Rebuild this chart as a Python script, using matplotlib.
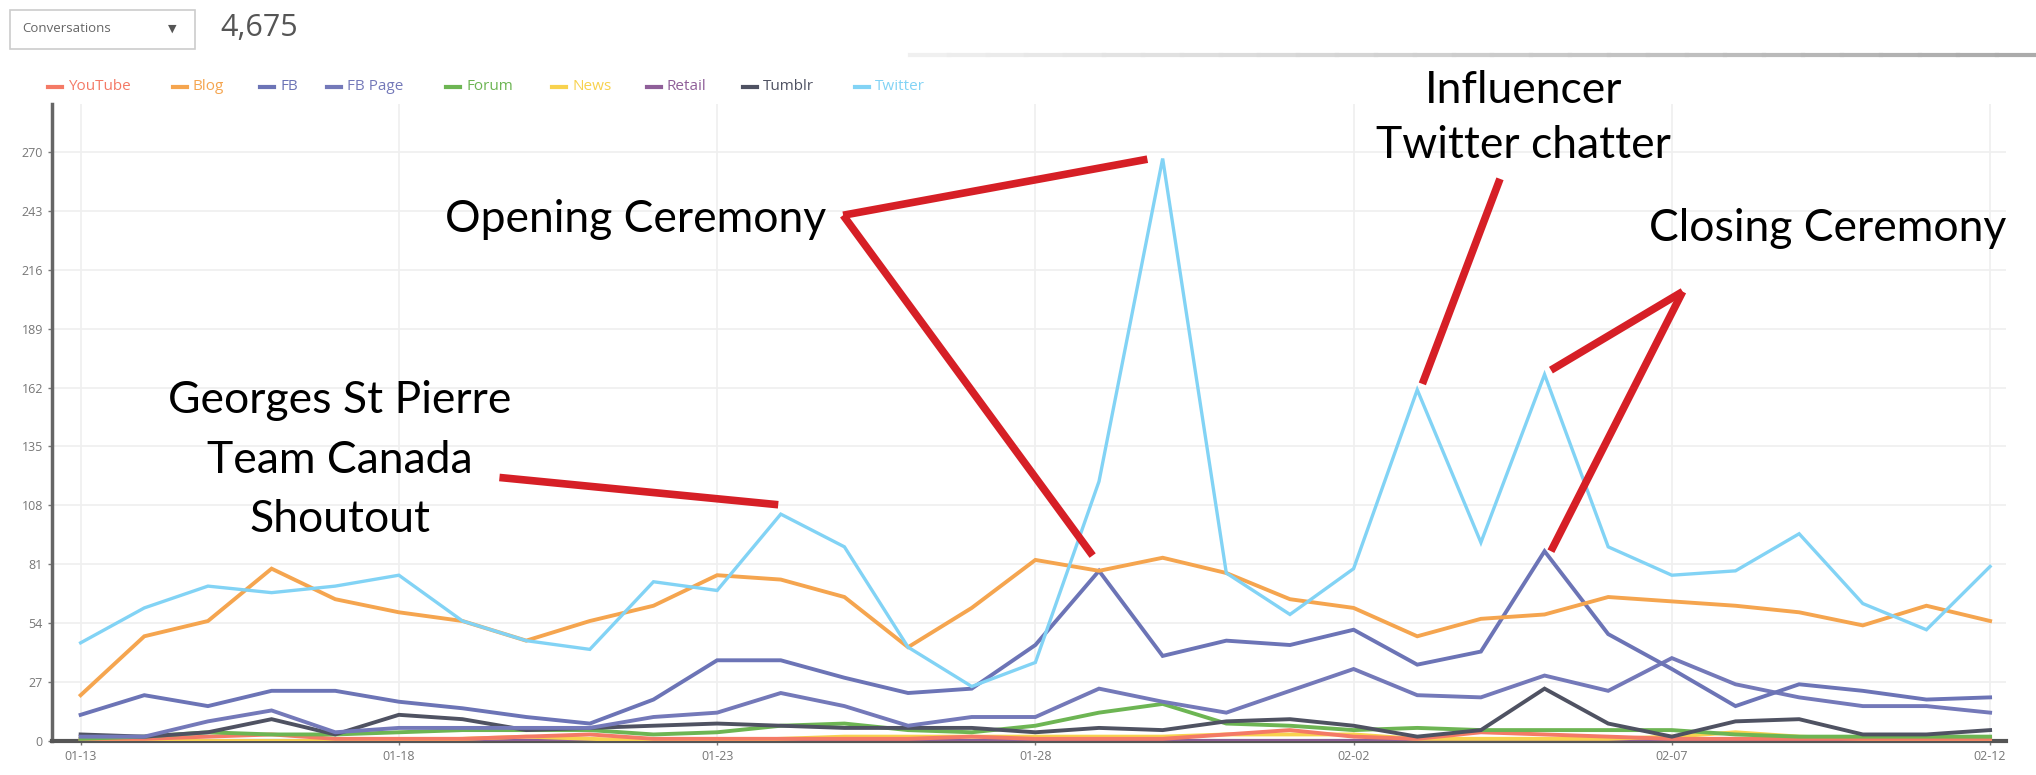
import matplotlib.pyplot as plt
import numpy as np
import pandas as pd
from matplotlib.patches import Rectangle
from matplotlib.lines import Line2D

plt.rcParams['font.family'] = ['Open Sans', 'DejaVu Sans']

# daily conversations per source, 01-13 .. 02-12
days = pd.date_range('2014-01-13', '2014-02-12').strftime('%m-%d').tolist()

youtube = [1, 1, 2, 3, 1, 1, 1, 2, 3, 1, 1, 1, 1, 1, 2, 1, 1, 1, 3, 5, 2, 1, 4, 3, 2, 1, 1, 1, 1, 1, 1]
blog = [21, 48, 55, 79, 65, 59, 55, 46, 55, 62, 76, 74, 66, 43, 61, 83, 78, 84, 77, 65,
        61, 48, 56, 58, 66, 64, 62, 59, 53, 62, 55]
fb = [12, 21, 16, 23, 23, 18, 15, 11, 8, 19, 37, 37, 29, 22, 24, 44, 78, 39, 46, 44,
      51, 35, 41, 87, 49, 33, 16, 26, 23, 19, 20]
fb_page = [2, 2, 9, 14, 4, 6, 6, 6, 6, 11, 13, 22, 16, 7, 11, 11, 24, 18, 13, 23,
           33, 21, 20, 30, 23, 38, 26, 20, 16, 16, 13]
forum = [1, 2, 4, 3, 3, 4, 5, 5, 5, 3, 4, 7, 8, 5, 4, 7, 13, 17, 8, 7, 5, 6, 5, 5, 5, 5, 3, 2, 2, 2, 2]
news = [0, 0, 0, 0, 0, 0, 1, 2, 1, 0, 0, 1, 2, 2, 2, 2, 2, 2, 3, 3, 3, 1, 1, 1, 1, 2, 4, 2, 1, 1, 1]
retail = [0, 0, 0, 0, 0, 0, 0, 0, 0, 0, 0, 0, 0, 0, 0, 0, 0, 0, 0, 0, 0, 0, 0, 0, 0, 0, 0, 0, 0, 0, 0]
tumblr = [3, 2, 4, 10, 3, 12, 10, 5, 6, 7, 8, 7, 6, 6, 6, 4, 6, 5, 9, 10, 7, 2, 5, 24, 8, 2, 9, 10, 3, 3, 5]
twitter = [45, 61, 71, 68, 71, 76, 55, 46, 42, 73, 69, 104, 89, 43, 25, 36, 119, 267, 77, 58,
           79, 161, 91, 168, 89, 76, 78, 95, 63, 51, 80]

names = ['YouTube', 'Blog', 'FB', 'FB Page', 'Forum', 'News', 'Retail', 'Tumblr', 'Twitter']
colors = ['#f47a66', '#f5a54f', '#6c74b6', '#7479b9', '#6db553', '#f8d24e', '#8f5f99', '#4f5262', '#82d3f5']
series = [youtube, blog, fb, fb_page, forum, news, retail, tumblr, twitter]
draw_order = ['Retail', 'News', 'YouTube', 'Forum', 'Tumblr', 'FB Page', 'FB', 'Blog', 'Twitter']

W, H = 2036, 775
fig = plt.figure(figsize=(W / 100, H / 100), dpi=100)
ax = fig.add_axes([52 / W, 1 - 741 / H, (2006 - 52) / W, (741 - 104) / H])

x = np.arange(len(days))
for nm in draw_order:
    i = names.index(nm)
    lw = 2.4 if nm == 'Twitter' else 2.8
    ax.plot(x, series[i], color=colors[i], lw=lw, solid_joinstyle='miter', zorder=3)

ax.set_xlim(-0.45, 30.25)
ax.set_ylim(0, 292)
ax.set_yticks(range(0, 271, 27))
ax.set_xticks(x[::5])
ax.set_xticklabels(days[::5])
ax.tick_params(labelsize=9, colors='#777777', length=3, width=1)
ax.grid(True, color='#efefef', lw=1.2)
ax.set_axisbelow(True)
for s in ['top', 'right']:
    ax.spines[s].set_visible(False)
ax.spines['left'].set_color('#666666')
ax.spines['left'].set_linewidth(2.5)
ax.spines['bottom'].set_color('#555555')
ax.spines['bottom'].set_linewidth(3)

# annotations
red = '#d61f26'
ann = dict(fontsize=32, family=['Lato', 'DejaVu Sans'], color='black', ha='center', va='center', zorder=6)
ax.text(4.07, 156, 'Georges St Pierre', **ann)
ax.text(4.07, 128.5, 'Team Canada', **ann)
ax.text(4.07, 101.5, 'Shoutout', **ann)
ax.text(8.72, 239, 'Opening Ceremony', **ann)
ax.text(22.67, 298, 'Influencer', **ann)
ax.text(22.67, 273, 'Twitter chatter', **ann)
ax.text(27.45, 235, 'Closing Ceremony', **ann)

red_lines = [
    ((6.58, 120.8), (10.96, 108.3)),
    ((11.98, 241), (16.76, 266.7)),
    ((11.98, 241), (15.9, 85)),
    ((22.3, 257.7), (21.08, 163.7)),
    ((25.17, 206), (23.1, 170)),
    ((25.17, 206), (23.1, 87)),
]
for (x0, y0), (x1, y1) in red_lines:
    ax.plot([x0, x1], [y0, y1], color=red, lw=5.5, solid_capstyle='butt', zorder=5, clip_on=False)

# header
fig.patches.append(Rectangle((10 / W, 1 - 49 / H), 185 / W, 39 / H, transform=fig.transFigure,
                             facecolor='white', edgecolor='#cccccc', lw=1.2))
fig.text(22 / W, 1 - 29 / H, 'Conversations', fontsize=9.5, color='#666666', va='center')
fig.text(168 / W, 1 - 29 / H, '\u25bc', fontsize=8, color='#555555', va='center', family='DejaVu Sans')
fig.text(220 / W, 1 - 28 / H, '4,675', fontsize=22, color='#555555', va='center')

# faded separator line
seg = np.linspace(910, W, 30)
for k in range(len(seg) - 1):
    g = 0.94 - 0.27 * k / (len(seg) - 2)
    fig.add_artist(Line2D([seg[k] / W, seg[k + 1] / W], [1 - 55 / H, 1 - 55 / H],
                          transform=fig.transFigure, color=(g, g, g), lw=3))

# legend
leg_x = [48, 173, 260, 327, 446, 552, 647, 743, 855]
for nm, c, lx in zip(names, colors, leg_x):
    fig.add_artist(Line2D([lx / W, (lx + 14) / W], [1 - 87 / H, 1 - 87 / H],
                          transform=fig.transFigure, color=c, lw=3))
    fig.text((lx + 20) / W, 1 - 87 / H, nm, fontsize=11, color=c, va='center')

fig.savefig('out.png', dpi=100)
